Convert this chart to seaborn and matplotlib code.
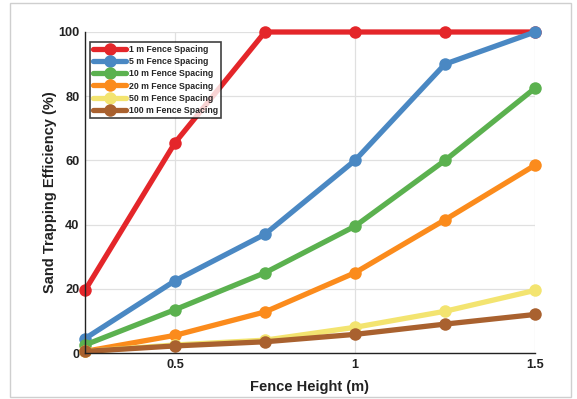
import matplotlib
matplotlib.use("Agg")
import matplotlib.pyplot as plt
from matplotlib.patches import Rectangle
import seaborn as sns
import pandas as pd

fence_height = [0.25, 0.5, 0.75, 1.0, 1.25, 1.5]
spacing_labels = ["1 m Fence Spacing", "5 m Fence Spacing", "10 m Fence Spacing",
                  "20 m Fence Spacing", "50 m Fence Spacing", "100 m Fence Spacing"]
eff_1m = [19.5, 65.5, 100, 100, 100, 100]
eff_5m = [4.5, 22.5, 37, 60, 90, 100]
eff_10m = [2.5, 13.5, 25, 39.5, 60, 82.5]
eff_20m = [0.5, 5.5, 12.8, 25, 41.5, 58.5]
eff_50m = [0.5, 2.5, 4.0, 8.0, 13, 19.5]
eff_100m = [0.5, 2.2, 3.5, 5.8, 9.0, 12]
colors = ["#e4262a", "#4a88c3", "#5bb14f", "#fb8b1c", "#f3e470", "#a9612f"]

series = [eff_1m, eff_5m, eff_10m, eff_20m, eff_50m, eff_100m]
df = pd.DataFrame({
    "height": fence_height * len(series),
    "eff": [v for s in series for v in s],
    "spacing": [lab for lab in spacing_labels for _ in fence_height],
})

sns.set_style("white")
plt.rcParams["font.family"] = ["Liberation Sans", "DejaVu Sans"]
plt.rcParams["font.weight"] = "bold"

fig = plt.figure(figsize=(5.77, 3.99), dpi=100)
ax = fig.add_axes([85 / 577, 1 - 353 / 399, 450 / 577, 321 / 399])

sns.lineplot(data=df, x="height", y="eff", hue="spacing", hue_order=spacing_labels,
             palette=colors, marker="o", markersize=9, markeredgewidth=0,
             linewidth=3.8, ax=ax, legend=True, clip_on=False)

ax.set_xlim(0.25, 1.5)
ax.set_ylim(0, 100)
ax.set_xticks([0.5, 1.0, 1.5])
ax.set_xticklabels(["0.5", "1", "1.5"])
ax.set_yticks([0, 20, 40, 60, 80, 100])
ax.grid(True, color="#e0e0e0", linewidth=0.9)
ax.set_axisbelow(True)
for side in ["top", "right"]:
    ax.spines[side].set_visible(False)
for side in ["left", "bottom"]:
    ax.spines[side].set_color("#222222")
    ax.spines[side].set_linewidth(1.0)
ax.tick_params(direction="in", length=4, width=1, colors="#222222",
               labelsize=9.2, pad=4)
for lab in ax.get_xticklabels() + ax.get_yticklabels():
    lab.set_fontweight("bold")
    lab.set_color("#222222")

ax.set_xlabel("Fence Height (m)", fontsize=10.5, fontweight="bold", color="#222222", labelpad=7)
ax.set_ylabel("Sand Trapping Efficiency (%)", fontsize=10.5, fontweight="bold", color="#222222", labelpad=1)

leg = ax.legend(loc="upper left", bbox_to_anchor=(5 / 450, 1 - 10 / 321), fontsize=6.3,
                frameon=True, fancybox=False, edgecolor="#111111", borderpad=0.35,
                handlelength=3.8, handletextpad=0.3, labelspacing=0.36, borderaxespad=0)
leg.get_frame().set_linewidth(1.2)
for t in leg.get_texts():
    t.set_fontweight("bold")

fig.patches.append(Rectangle((10 / 577, 2 / 399), 561 / 577, 394 / 399,
                             transform=fig.transFigure, fill=False,
                             edgecolor="#cfcfcf", linewidth=1.0))

fig.savefig("out.png", dpi=100)
